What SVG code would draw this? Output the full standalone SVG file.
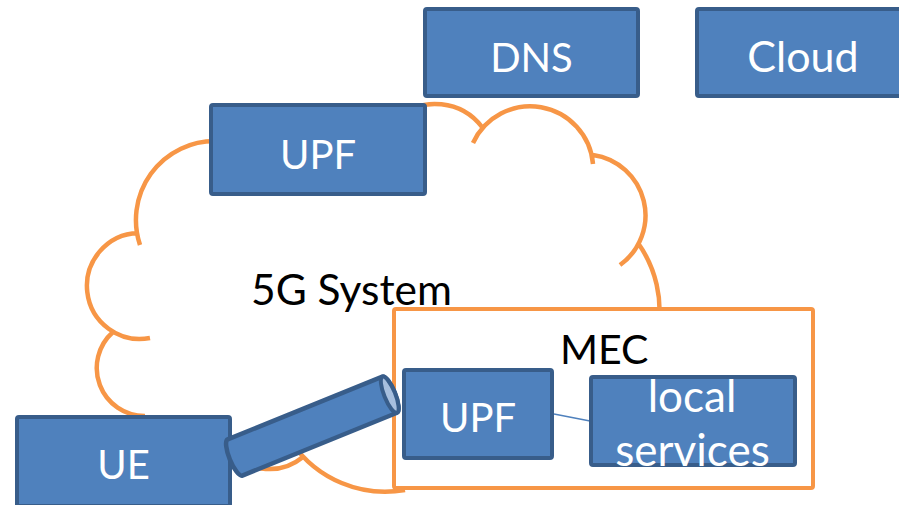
<svg xmlns="http://www.w3.org/2000/svg" width="899" height="505" viewBox="0 0 899 505">
  <style>
    .box { fill: #4F81BD; stroke: #385D8A; stroke-width: 4; }
    .lbl { font-family: Lato, "Liberation Sans", sans-serif; font-size: 40px; fill: #FFFFFF; text-anchor: middle; }
    .dark { font-family: Lato, "Liberation Sans", sans-serif; font-size: 42.5px; fill: #000000; }
    .cloud { fill: none; stroke: #F79646; stroke-width: 4.5; stroke-linecap: butt; }
  </style>
  <rect width="899" height="505" fill="#FFFFFF"/>

  <!-- cloud outline of the 5G system, lobes drawn one by one -->
  <g id="system-cloud">
    <path class="cloud" d="M140,245 A79,79 0 0 1 215,141
                           M150,338 A53,53 0 1 1 138,233
                           M113,332 A48,48 0 0 0 145,416
                           M225,445 A53,53 0 0 0 303,457
                           M292,443 A113.6,113.6 0 0 0 405,490
                           M638,243 A117,117 0 0 1 658,330
                           M593,155 A61,61 0 0 1 620,265
                           M473,143 A63,63 0 0 1 593,164
                           M397,118 A59,59 0 0 1 482,127"/>
    <text class="dark" x="251" y="305">5G System</text>
  </g>

  <!-- MEC site -->
  <g id="mec">
    <rect x="394" y="309" width="419" height="179" rx="2" fill="#FFFFFF" stroke="#F79646" stroke-width="4"/>
    <text class="dark" x="560" y="364" style="font-size:41px">MEC</text>
  </g>

  <g id="dns">
    <rect class="box" x="425" y="9" width="213" height="87" rx="2"/>
    <text class="lbl" x="531.5" y="72">DNS</text>
  </g>

  <g id="cloud-service">
    <rect class="box" x="697" y="9" width="213" height="87" rx="2"/>
    <text class="lbl" x="803" y="72" style="font-size:43px">Cloud</text>
  </g>

  <g id="upf-core">
    <rect class="box" x="211" y="105" width="214" height="89" rx="2"/>
    <text class="lbl" x="318" y="169">UPF</text>
  </g>

  <g id="ue">
    <rect class="box" x="17" y="417" width="213" height="89" rx="2"/>
    <text class="lbl" x="123.5" y="479">UE</text>
  </g>

  <!-- connectors -->
  <g id="connectors">
    <line x1="554" y1="414" x2="590" y2="421" stroke="#4F81BD" stroke-width="1.5"/>
  </g>

  <g id="upf-edge">
    <rect class="box" x="404" y="370" width="148" height="88" rx="2"/>
    <text class="lbl" x="478" y="432">UPF</text>
  </g>

  <g id="local-services">
    <rect class="box" x="591" y="377" width="204" height="88" rx="2"/>
    <text class="lbl" x="692" y="412" style="font-size:44px">local</text>
    <text class="lbl" x="692.5" y="466" style="font-size:44px">services</text>
  </g>

  <!-- tunnel from UE to the edge UPF, drawn as a lying cylinder -->
  <g id="tunnel" transform="translate(235,457.5) rotate(-22.1)">
    <path d="M0,-19.5 L167,-19.5 A5.5,19.5 0 0 1 167,19.5 L0,19.5 A5.5,19.5 0 0 1 0,-19.5 Z" fill="#4F81BD" stroke="#385D8A" stroke-width="4.5" stroke-linejoin="round"/>
    <ellipse cx="167" cy="0" rx="5.5" ry="19.5" fill="#A7BFDE" stroke="#385D8A" stroke-width="4"/>
  </g>
</svg>
